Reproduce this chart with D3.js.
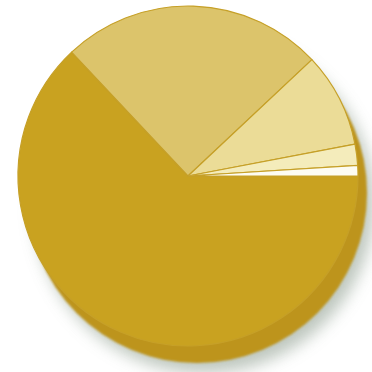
<!DOCTYPE html>
<html><head><meta charset="utf-8">
<script src="https://cdn.jsdelivr.net/npm/d3@7"></script>
<style>html,body{margin:0;padding:0;background:#fff;}svg{display:block;}</style>
</head><body>
<svg id="chart" width="372" height="372"></svg>
<script>
const categories = ["A", "B", "C", "D", "E"];
const values = [63, 25, 9, 2, 1];
const colors = ["#c9a220", "#dcc46b", "#ebdc97", "#f4ecbb", "#fdfcf2"];

const svg = d3.select("#chart");
const cx = 188, cy = 176, r = 170, depth = 17, sdx = 9;

const defs = svg.append("defs");
const f = defs.append("filter").attr("id", "blur").attr("x", "-30%").attr("y", "-30%").attr("width", "160%").attr("height", "160%");
f.append("feGaussianBlur").attr("stdDeviation", 8);
const f2 = defs.append("filter").attr("id", "soft");
f2.append("feGaussianBlur").attr("stdDeviation", 0.8);

// shadow
svg.append("circle").attr("cx", cx + 16).attr("cy", cy + depth + 10).attr("r", r)
  .attr("fill", "#a7b4a8").attr("opacity", 0.75).attr("filter", "url(#blur)");
// side (thickness)
svg.append("circle").attr("cx", cx + sdx).attr("cy", cy + depth).attr("r", r)
  .attr("fill", "#bd941c").attr("filter", "url(#soft)");

const pie = d3.pie().value(d => d).sort(null).startAngle(Math.PI / 2).endAngle(Math.PI / 2 + 2 * Math.PI);
const arc = d3.arc().innerRadius(0).outerRadius(r);

const g = svg.append("g").attr("transform", `translate(${cx},${cy})`);
g.selectAll("path").data(pie(values)).join("path")
  .attr("d", arc)
  .attr("fill", (d, i) => colors[i])
  .attr("stroke", "#c6a028")
  .attr("stroke-width", 1.2)
  .attr("stroke-linejoin", "round");
</script>
</body></html>
